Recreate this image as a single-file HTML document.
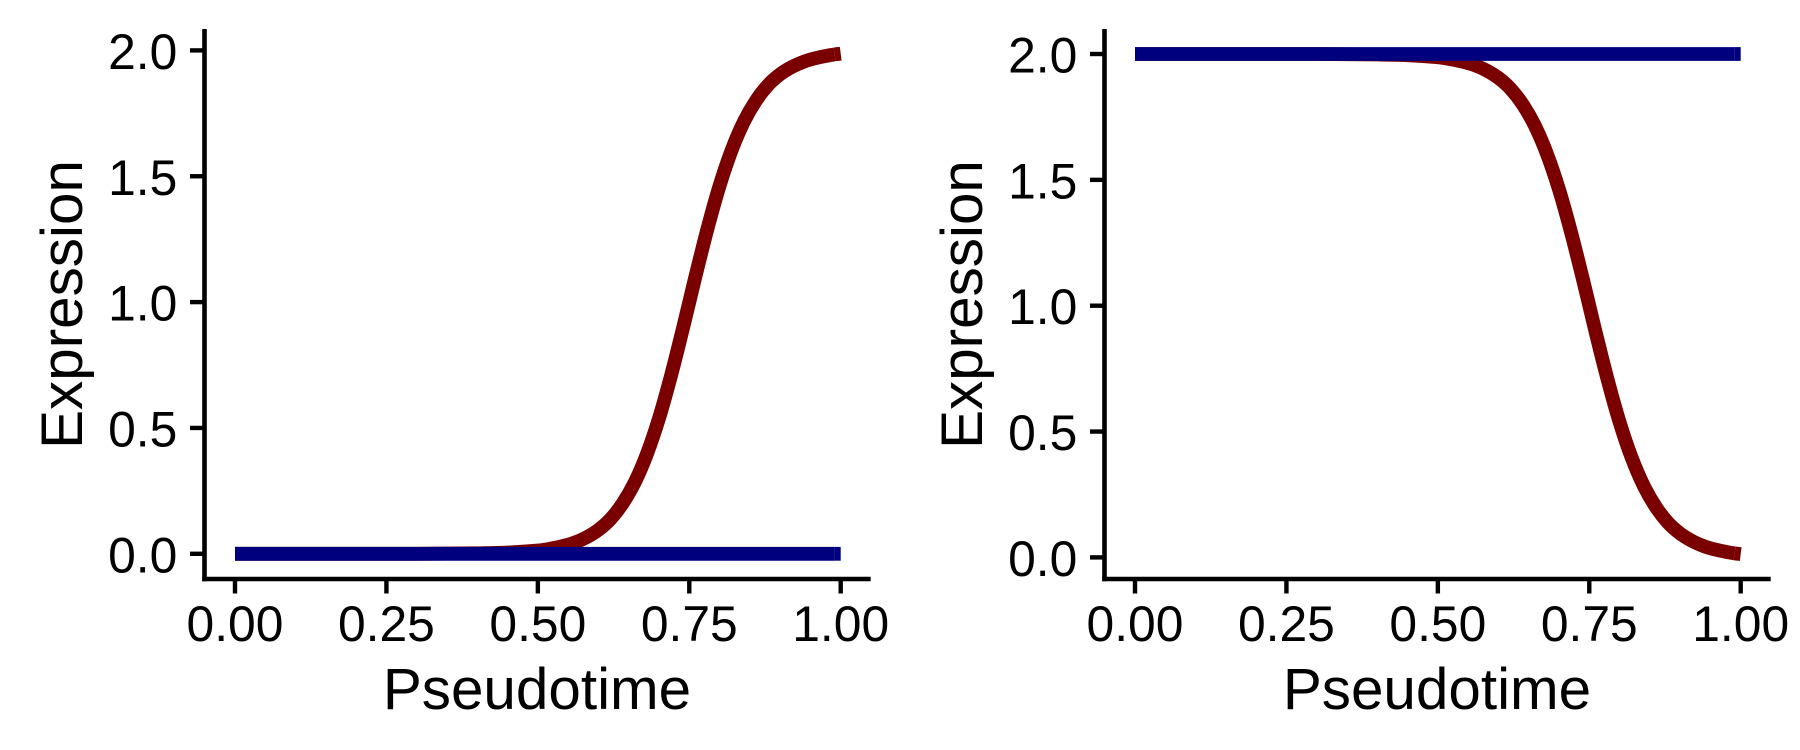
<!DOCTYPE html>
<html>
<head>
<meta charset="utf-8">
<title>Expression over pseudotime</title>
<style>
html,body{margin:0;padding:0;background:#fff;width:1800px;height:750px;overflow:hidden}
svg{display:block}
text{font-family:"Liberation Sans",Arial,sans-serif;fill:#000}
.tick-label{font-size:49.8px}
.axis-title{font-size:58.4px}
</style>
</head>
<body>
<svg id="chart" xmlns="http://www.w3.org/2000/svg" width="1800" height="750" viewBox="0 0 1800 750"></svg>
<script>
const pseudotime = [0, 0.1, 0.2, 0.3, 0.35, 0.4, 0.45, 0.5, 0.52, 0.54, 0.56, 0.58, 0.6, 0.62, 0.64, 0.66, 0.68, 0.7, 0.72, 0.74, 0.75, 0.76, 0.78, 0.8, 0.82, 0.84, 0.86, 0.88, 0.9, 0.92, 0.94, 0.96, 0.98, 0.99, 1];
const leftRedExpression = [0, 0, 0, 0, 0.001, 0.002, 0.005, 0.013, 0.02, 0.03, 0.044, 0.065, 0.095, 0.138, 0.2, 0.284, 0.396, 0.538, 0.709, 0.9, 1, 1.1, 1.291, 1.462, 1.604, 1.716, 1.8, 1.862, 1.905, 1.935, 1.956, 1.97, 1.98, 1.984, 1.987];
const leftBlueExpression = [0, 0, 0, 0, 0, 0, 0, 0, 0, 0, 0, 0, 0, 0, 0, 0, 0, 0, 0, 0, 0, 0, 0, 0, 0, 0, 0, 0, 0, 0, 0, 0, 0, 0, 0];
const rightRedExpression = [2, 2, 2, 2, 1.999, 1.998, 1.995, 1.987, 1.98, 1.97, 1.956, 1.935, 1.905, 1.862, 1.8, 1.716, 1.604, 1.462, 1.291, 1.1, 1, 0.9, 0.709, 0.538, 0.396, 0.284, 0.2, 0.138, 0.095, 0.065, 0.044, 0.03, 0.02, 0.016, 0.013];
const rightBlueExpression = [2, 2, 2, 2, 2, 2, 2, 2, 2, 2, 2, 2, 2, 2, 2, 2, 2, 2, 2, 2, 2, 2, 2, 2, 2, 2, 2, 2, 2, 2, 2, 2, 2, 2, 2];
const xTickValues = [0, 0.25, 0.5, 0.75, 1];
const xTickLabels = ["0.00", "0.25", "0.50", "0.75", "1.00"];
const yTickValues = [0, 0.5, 1, 1.5, 2];
const yTickLabels = ["0.0", "0.5", "1.0", "1.5", "2.0"];

const SVG_NS = 'http://www.w3.org/2000/svg';
const chart = document.getElementById('chart');

function make(parent, tag, attrs) {
  const el = document.createElementNS(SVG_NS, tag);
  for (const k in attrs) el.setAttribute(k, attrs[k]);
  parent.appendChild(el);
  return el;
}

function smoothPath(xs, ys, from, to) {
  const slope = i => {
    const a = Math.max(i - 1, 0);
    const b = Math.min(i + 1, xs.length - 1);
    return (ys[b] - ys[a]) / (xs[b] - xs[a]);
  };
  let d = 'M' + xs[from].toFixed(2) + ' ' + ys[from].toFixed(2);
  for (let i = from; i < to; i++) {
    const h = xs[i + 1] - xs[i];
    d += ' C' + (xs[i] + h / 3).toFixed(2) + ' ' + (ys[i] + slope(i) * h / 3).toFixed(2) +
         ' ' + (xs[i + 1] - h / 3).toFixed(2) + ' ' + (ys[i + 1] - slope(i + 1) * h / 3).toFixed(2) +
         ' ' + xs[i + 1].toFixed(2) + ' ' + ys[i + 1].toFixed(2);
  }
  return d;
}

function drawSeries(group, xFn, yFn, values, color, width, name) {
  const xs = pseudotime.map(xFn);
  const ys = values.map(yFn);
  const n = xs.length;
  const main = make(group, 'path', {
    d: smoothPath(xs, ys, 0, n - 2),
    fill: 'none', stroke: color, 'stroke-width': width,
    'stroke-linejoin': 'round', 'stroke-linecap': 'butt'
  });
  
  
  const tail = make(group, 'path', {
    d: smoothPath(xs, ys, n - 2, n - 1),
    fill: 'none', stroke: color, 'stroke-width': width,
    'stroke-linejoin': 'round', 'stroke-linecap': 'butt'
  });
  
  
}

function drawPanel(cfg) {
  const group = make(chart, 'g', {});
  
  

  const xFn = t => cfg.x0 + 605.7 * t;
  const yFn = v => cfg.y0 - 251.7 * v;
  const spineX = cfg.x0 - 30.5;
  const axisRight = cfg.x0 + 635.7;
  const axisY = 579;

  drawSeries(group, xFn, yFn, cfg.red, '#7a0000', 13.8, 'trend-line-red');
  drawSeries(group, xFn, yFn, cfg.blue, '#00007f', 13.8, 'trend-line-blue');

  const yAxis = make(group, 'line', { x1: spineX, x2: spineX, y1: 29, y2: axisY + 2.2, stroke: '#000', 'stroke-width': 4.6 });
  
  

  const xAxis = make(group, 'line', { x1: spineX - 2.3, x2: axisRight, y1: axisY, y2: axisY, stroke: '#000', 'stroke-width': 4.6 });
  
  

  xTickValues.forEach((v, i) => {
    const x = xFn(v);
    const tick = make(group, 'line', { x1: x, x2: x, y1: axisY, y2: 593.5, stroke: '#000', 'stroke-width': 4.4 });
    
    
    const label = make(group, 'text', { x: x, y: 641, 'text-anchor': 'middle', class: 'tick-label' });
    label.textContent = xTickLabels[i];
    
    
  });

  yTickValues.forEach((v, i) => {
    const y = yFn(v);
    const tick = make(group, 'line', { x1: spineX - 14.5, x2: spineX, y1: y, y2: y, stroke: '#000', 'stroke-width': 4.4 });
    
    
    const label = make(group, 'text', { x: spineX - 27.2, y: y + 18.5, 'text-anchor': 'end', class: 'tick-label' });
    label.textContent = yTickLabels[i];
    
    
  });

  const xTitle = make(group, 'text', { x: cfg.x0 + 302, y: 709, 'text-anchor': 'middle', class: 'axis-title' });
  xTitle.textContent = 'Pseudotime';
  
  

  const yTitleX = spineX - 122.3;
  const yTitle = make(group, 'text', { x: yTitleX, y: 304.5, 'text-anchor': 'middle', class: 'axis-title', transform: 'rotate(-90 ' + yTitleX + ' 304.5)' });
  yTitle.textContent = 'Expression';
  
  
}

drawPanel({ name: 'left-panel', x0: 235, y0: 553.8, red: leftRedExpression, blue: leftBlueExpression });
drawPanel({ name: 'right-panel', x0: 1135, y0: 557.4, red: rightRedExpression, blue: rightBlueExpression });
</script>
</body>
</html>
